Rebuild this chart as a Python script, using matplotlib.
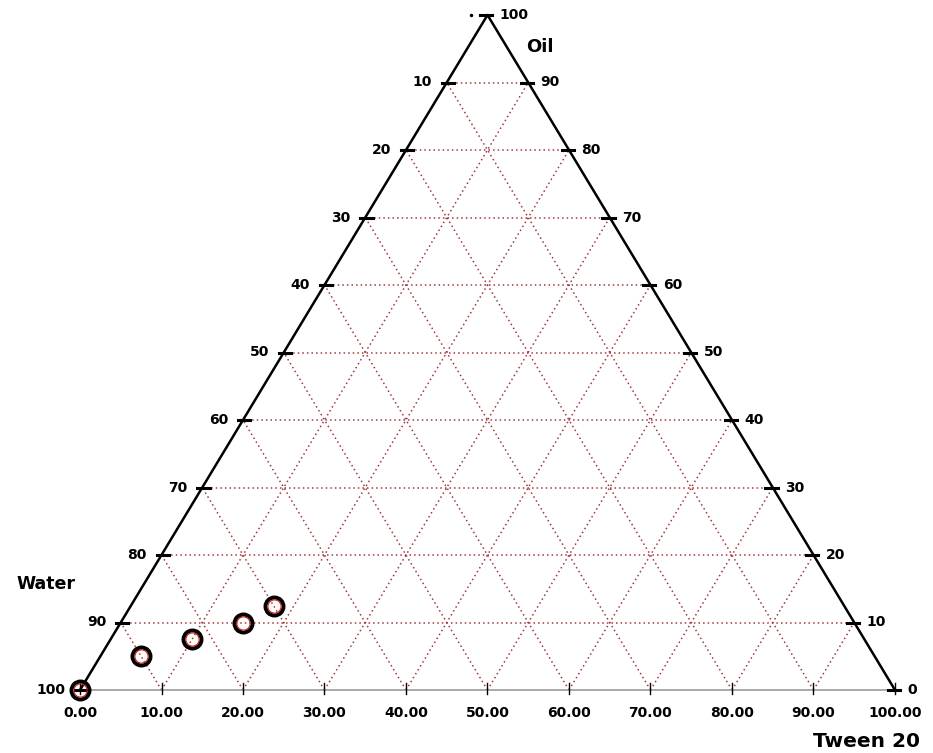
import matplotlib.pyplot as plt

# ternary data (Tween 20 %, Oil %); Water = rest
tween = [0, 5, 10, 15, 17.5]
oil = [0, 5, 7.5, 10, 12.5]

levels = [10, 20, 30, 40, 50, 60, 70, 80, 90]
bottom_labels = ["0.00", "10.00", "20.00", "30.00", "40.00", "50.00",
                 "60.00", "70.00", "80.00", "90.00", "100.00"]
left_labels = ["100", "90", "80", "70", "60", "50", "40", "30", "20", "10"]
right_labels = ["0", "10", "20", "30", "40", "50", "60", "70", "80", "90", "100"]

W, H = 933, 753
fig = plt.figure(figsize=(W / 100, H / 100), dpi=100)
ax = fig.add_axes([80 / W, (H - 690) / H, 815 / W, 675 / H])
ax.set_xlim(0, 100)
ax.set_ylim(0, 100)
ax.axis("off")

grid_kw = dict(color="#a23a3a", lw=1.1, ls=(0, (1, 2)), zorder=1, clip_on=False)

# horizontal grid (oil levels)
for o in levels:
    ax.plot([o / 2, 100 - o / 2], [o, o], **grid_kw)
# diagonal grid
for t in levels:
    ax.plot([t, t + (100 - t) / 2], [0, 100 - t], **grid_kw)
    ax.plot([t, t / 2], [0, t], **grid_kw)

# triangle edges
ax.plot([0, 100], [0, 0], color="#999999", lw=1.2, zorder=2, clip_on=False)
ax.plot([0, 50, 100], [0, 100, 0], color="black", lw=1.8, zorder=3, clip_on=False)

bold = dict(fontweight="bold", fontsize=10, family="DejaVu Sans")

# bottom ticks and labels
for i, lab in enumerate(bottom_labels):
    x = i * 10
    ax.plot([x, x], [-0.6, 1.0], color="black", lw=1, zorder=3, clip_on=False)
    ax.text(x, -3.4, lab, ha="center", va="center", **bold)

# left edge ticks (Water)
for i, lab in enumerate(left_labels):
    o = i * 10
    x = o / 2
    ax.plot([x - 0.6, x + 0.9], [o, o], color="black", lw=2.2, zorder=4, clip_on=False)
    ax.text(x - 1.8, o, lab, ha="right", va="center", **bold)

# right edge ticks (Oil)
for i, lab in enumerate(right_labels):
    o = i * 10
    x = 100 - o / 2
    ax.plot([x - 0.9, x + 0.6], [o, o], color="black", lw=2.2, zorder=4, clip_on=False)
    ax.text(x + 1.5, o, lab, ha="left", va="center", **bold)

ax.plot([48], [100], marker=".", color="black", ms=3, clip_on=False)

# axis titles
ax.text(56.4, 95.2, "Oil", ha="center", va="center", fontweight="bold", fontsize=13)
ax.text(-4.2, 15.7, "Water", ha="center", va="center", fontweight="bold", fontsize=12.5)
ax.text(96.5, -7.6, "Tween 20", ha="center", va="center", fontweight="bold", fontsize=14.5)

# data points
px = [t + o / 2 for t, o in zip(tween, oil)]
ax.plot(px, oil, ls="none", marker="o", ms=13, mfc="none", mec="black", mew=2.8,
        zorder=5, clip_on=False)
ax.plot(px, oil, ls="none", marker="o", ms=9.5, mfc="none", mec="#d02020", mew=0.8,
        zorder=6, clip_on=False)

fig.savefig("out.png", dpi=100)
